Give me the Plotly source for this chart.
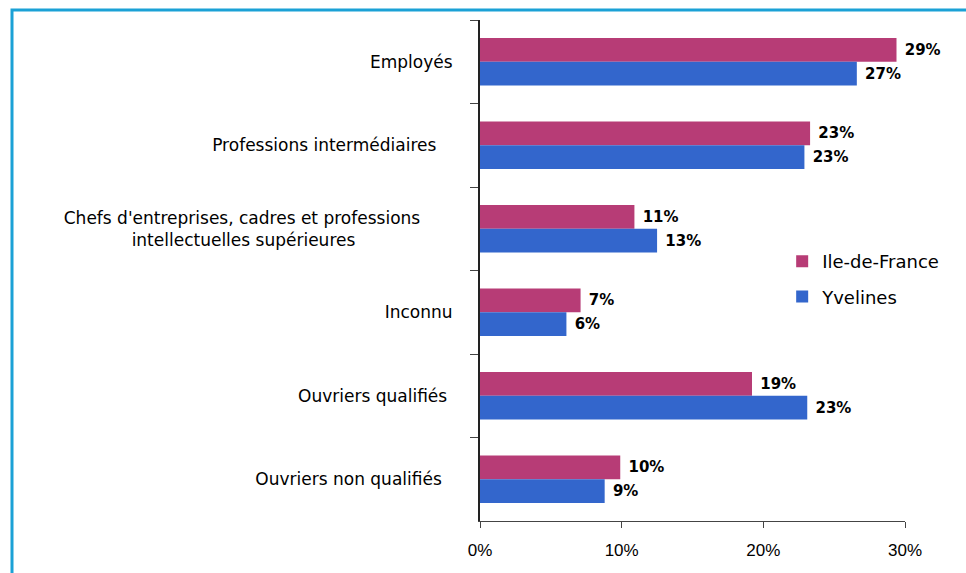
import plotly.graph_objects as go

NB = "\u00a0"
categories = [
    "Employés",
    "Professions intermédiaires" + NB * 3,
    "Chefs d'entreprises, cadres et professions" + NB * 6 + "<br>intellectuelles supérieures" + NB * 18,
    "Inconnu",
    "Ouvriers qualifiés" + NB * 1,
    "Ouvriers non qualifiés" + NB * 2,
]
idf_values = [29.4, 23.3, 10.9, 7.1, 19.2, 9.9]
yvelines_values = [26.6, 22.9, 12.5, 6.1, 23.1, 8.8]
x_ticks = [0, 10, 20, 30]
x_tick_labels = ["0%", "10%", "20%", "30%"]

label_font = "DejaVu Sans"
value_text = NB + "%{x:.0f}%"

fig = go.Figure()
fig.add_trace(go.Bar(
    name="Ile-de-France", y=categories, x=idf_values, orientation="h",
    legendgroup="idf",
    marker_color="#B73C76", marker_line_width=0,
    texttemplate=value_text, textposition="outside",
    textfont=dict(family=label_font, size=15, color="black", weight="bold"),
    cliponaxis=False,
))
fig.add_trace(go.Bar(
    name="Yvelines", y=categories, x=yvelines_values, orientation="h",
    legendgroup="yv",
    marker_color="#3366CC", marker_line_width=0,
    texttemplate=value_text, textposition="outside",
    textfont=dict(family=label_font, size=15, color="black", weight="bold"),
    cliponaxis=False,
))

fig.update_layout(
    width=966, height=573,
    barmode="group", bargap=0.43, bargroupgap=0,
    plot_bgcolor="white", paper_bgcolor="white",
    margin=dict(l=480, r=61, t=20, b=52),
    font=dict(family=label_font, size=17, color="black"),
    showlegend=True,
    legend=dict(x=0.711, y=0.555, xanchor="left", yanchor="top",
                traceorder="grouped", tracegroupgap=9,
                bgcolor="rgba(0,0,0,0)", font=dict(size=18)),
)

fig.update_xaxes(
    range=[0, 30], tickmode="array", tickvals=x_ticks, ticktext=x_tick_labels,
    showgrid=False, zeroline=False,
    showline=True, linecolor="#444", linewidth=1,
    ticks="outside", ticklen=6, tickcolor="#444",
    ticklabelstandoff=8,
    tickfont=dict(family="Liberation Sans", size=17),
)
fig.update_yaxes(
    autorange="reversed", type="category",
    showgrid=False, zeroline=False,
    showline=True, linecolor="#222", linewidth=2,
    ticks="outside", tickson="boundaries", ticklen=8, tickcolor="#444",
    ticklabelstandoff=22,
    tickfont=dict(family=label_font, size=17),
)

# light blue frame around the picture
fig.add_shape(
    type="rect", xref="paper", yref="paper",
    x0=(12 - 480) / 425, x1=(990 - 480) / 425,
    y0=(521 - 600) / 501, y1=(521 - 10) / 501,
    line=dict(color="#1BA1D6", width=3), fillcolor="rgba(0,0,0,0)",
    layer="above",
)

fig.write_html("out.html", config={"displayModeBar": False},
               post_script="document.body.style.margin='0';")
